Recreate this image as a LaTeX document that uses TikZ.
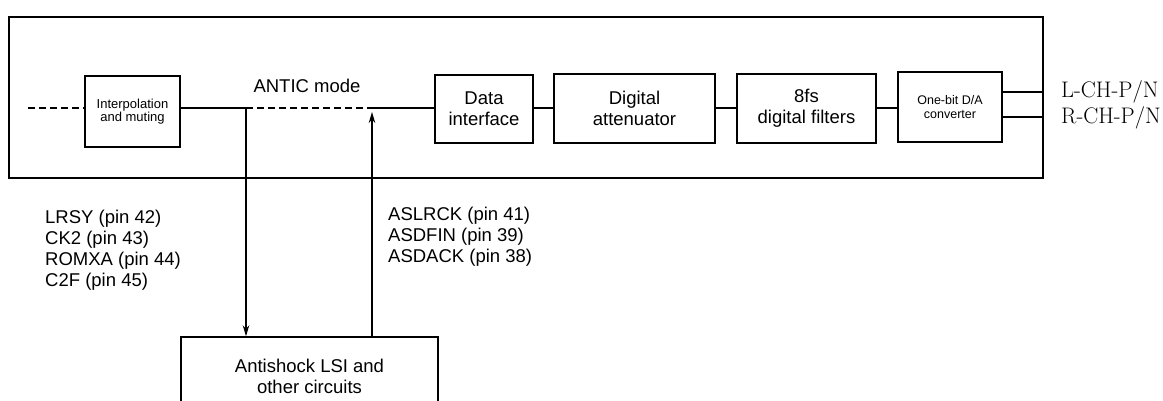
\documentclass[tikz,border=0pt]{standalone}
\usepackage{fontspec}
\setsansfont{Liberation Sans}
\usetikzlibrary{arrows.meta}
\begin{document}
\begin{tikzpicture}[x=1pt,y=-1pt,
  blk/.style={draw,line width=1.4pt,inner sep=0pt,align=center,font=\sffamily\fontsize{18.5}{21}\selectfont},
  smallblk/.style={blk,font=\sffamily\fontsize{13}{13}\selectfont},
  wire/.style={line width=1.4pt},
  dwire/.style={line width=1.4pt,dash pattern=on 7pt off 4pt},
  arr/.style={line width=1.4pt,-{Stealth[length=11pt,width=6.5pt]}},
  lbl/.style={inner sep=0pt,align=left,font=\sffamily\fontsize{18.5}{21}\selectfont}]
\useasboundingbox (0,0) rectangle (1163,401);
\clip (0,0) rectangle (1163,401);
% outer chip box
\node[draw,line width=1.3pt,inner sep=0pt,minimum width=1034pt,minimum height=161pt] (outer) at (526,97.5) {};
% blocks
\node[smallblk,minimum width=95pt,minimum height=71pt] (interp) at (132.5,111.5) {Interpolation\\and muting};
\node[blk,minimum width=98pt,minimum height=68pt] (data) at (484,109) {Data\\interface};
\node[blk,minimum width=161pt,minimum height=69pt] (atten) at (634.5,108.5) {Digital\\attenuator};
\node[blk,minimum width=139pt,minimum height=69pt] (filt) at (806.5,108.5) {8fs\\digital filters};
\node[blk,font=\sffamily\fontsize{12.5}{13.5}\selectfont,minimum width=104pt,minimum height=70pt] (da) at (950,107) {One-bit D/A\\converter};
\node[blk,minimum width=257pt,minimum height=78pt] (anti) at (309.5,376) {Antishock LSI and\\other circuits};
% text labels
\node[lbl,anchor=base] (antic) at (307,93) {ANTIC mode};
\node[lbl,anchor=north west] (pinsL) at (45,209.5) {LRSY (pin 42)\\CK2 (pin 43)\\ROMXA (pin 44)\\C2F (pin 45)};
\node[lbl,anchor=north west] (pinsR) at (388,206.5) {ASLRCK (pin 41)\\ASDFIN (pin 39)\\ASDACK (pin 38)};
\node[inner sep=0pt,anchor=north west,align=left,font=\fontsize{22.5}{26}\selectfont] (outs) at (1061,80) {L-CH-P/N\\R-CH-P/N};
% connectors
\coordinate (lin) at (28,108);
\coordinate (j1) at (246,108);
\coordinate (j2) at (372,108);
\coordinate (tip) at (372,112);
\coordinate (outL) at (1043,92);
\coordinate (outR) at (1043,117);
\draw[dwire] (lin) -- (lin -| interp.west);
\draw[wire] (interp.east |- j1) -- (j1);
\draw[dwire] (j1) -- (j2);
\draw[wire] (j2) -- (j2 -| data.west);
\draw[wire] (data.east |- j1) -- (j1 -| atten.west);
\draw[wire] (atten.east |- j1) -- (j1 -| filt.west);
\draw[wire] (filt.east |- j1) -- (j1 -| da.west);
\draw[wire] (outL -| da.east) -- (outL);
\draw[wire] (outR -| da.east) -- (outR);
\draw[arr] (j1) -- (j1 |- anti.north);
\draw[arr] (tip |- anti.north) -- (tip);
\end{tikzpicture}
\end{document}
